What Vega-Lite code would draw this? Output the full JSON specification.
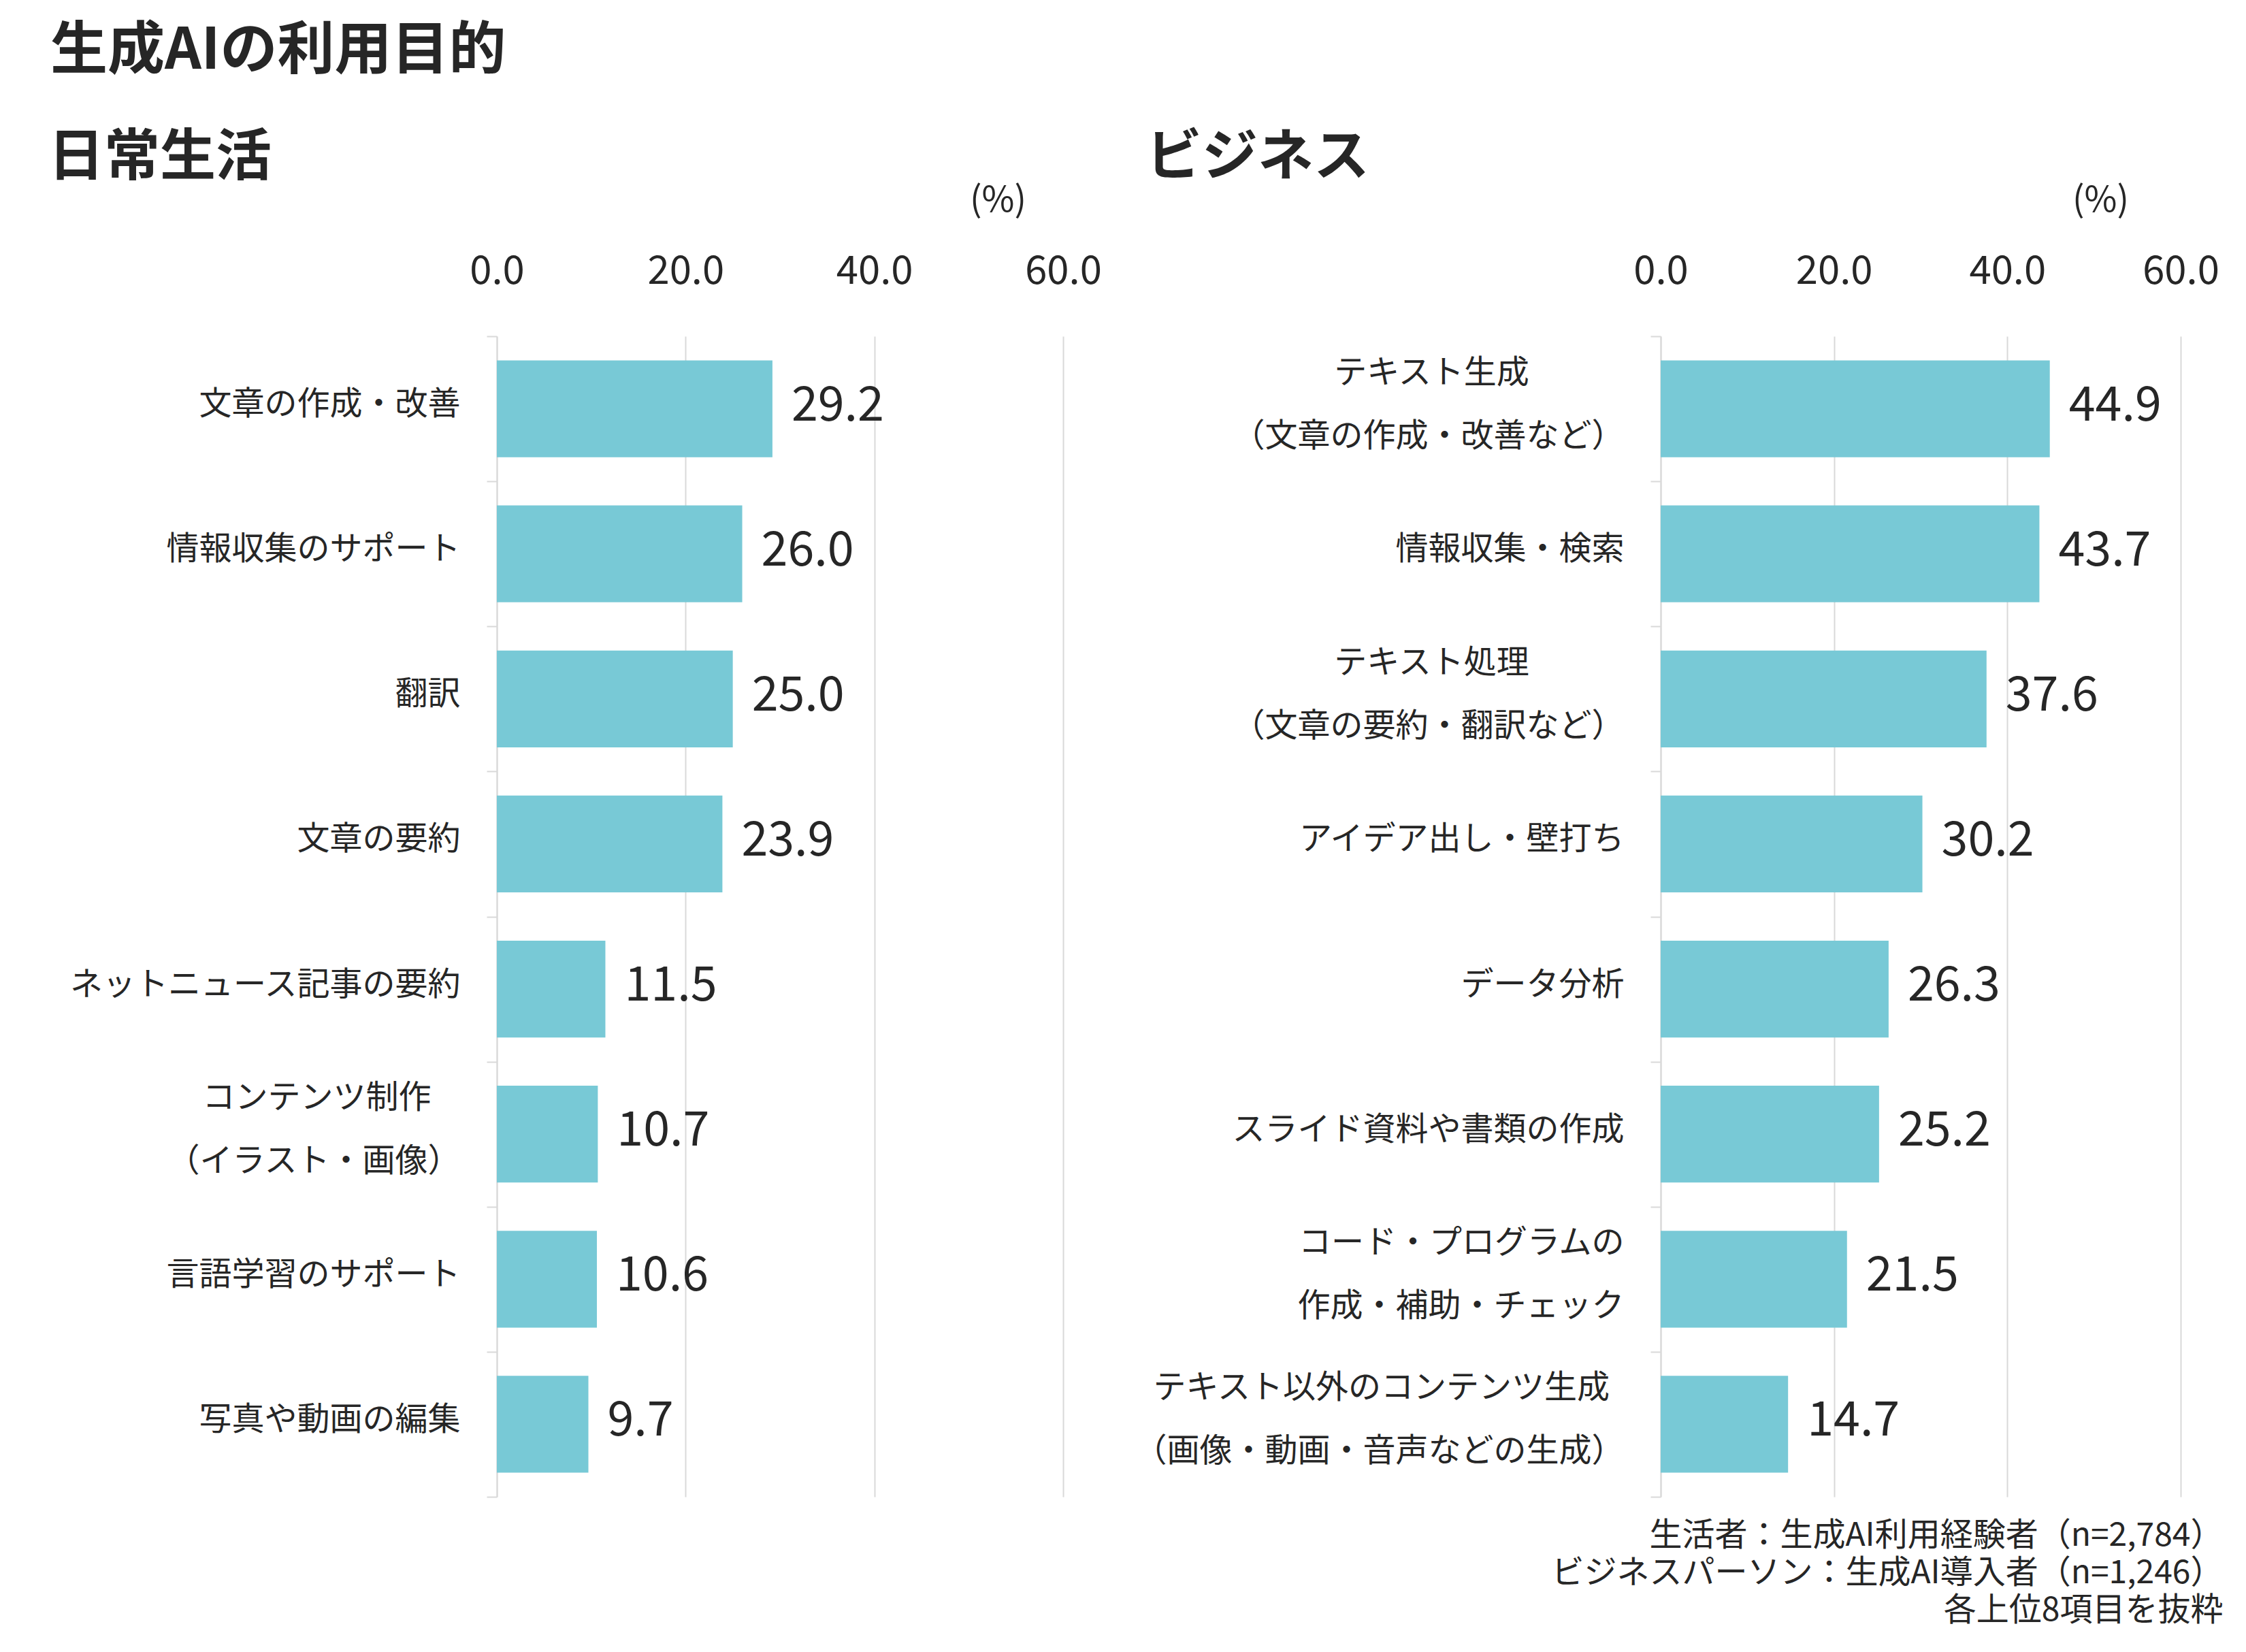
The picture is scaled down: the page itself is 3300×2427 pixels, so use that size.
{
  "$schema": "https://vega.github.io/schema/vega-lite/v6.json",
  "background": "white",
  "padding": {"left": 71, "top": 34, "right": 0, "bottom": 60},
  "bounds": "flush",
  "spacing": 878,
  "title": {"text": "生成AIの利用目的", "anchor": "start", "frame": "group", "dx": -656, "offset": 72, "fontSize": 84, "fontWeight": "bold", "color": "#262626"},
  "datasets": {
    "daily": [
      {"label": "文章の作成・改善", "value": 29.2},
      {"label": "情報収集のサポート", "value": 26.0},
      {"label": "翻訳", "value": 25.0},
      {"label": "文章の要約", "value": 23.9},
      {"label": "ネットニュース記事の要約", "value": 11.5},
      {"label": "コンテンツ制作\u00a0\u00a0\u00a0\u00a0\u200b\n（イラスト・画像）", "value": 10.7},
      {"label": "言語学習のサポート", "value": 10.6},
      {"label": "写真や動画の編集", "value": 9.7}
    ],
    "business": [
      {"label": "テキスト生成\u00a0\u00a0\u00a0\u00a0\u00a0\u00a0\u00a0\u00a0\u00a0\u00a0\u00a0\u00a0\u00a0\u200b\n（文章の作成・改善など）", "value": 44.9},
      {"label": "情報収集・検索", "value": 43.7},
      {"label": "テキスト処理\u00a0\u00a0\u00a0\u00a0\u00a0\u00a0\u00a0\u00a0\u00a0\u00a0\u00a0\u00a0\u00a0\u200b\n（文章の要約・翻訳など）", "value": 37.6},
      {"label": "アイデア出し・壁打ち", "value": 30.2},
      {"label": "データ分析", "value": 26.3},
      {"label": "スライド資料や書類の作成", "value": 25.2},
      {"label": "コード・プログラムの\n作成・補助・チェック", "value": 21.5},
      {"label": "テキスト以外のコンテンツ生成\u00a0\u00a0\u200b\n（画像・動画・音声などの生成）", "value": 14.7}
    ]
  },
  "hconcat": [
    {
      "width": 832,
      "height": 1705,
      "title": {"text": "日常生活", "anchor": "start", "frame": "group", "dx": -659, "offset": -6, "fontSize": 82, "fontWeight": "bold", "color": "#262626"},
      "data": {"name": "daily"},
      "encoding": {
        "y": {"field": "label", "type": "nominal", "sort": null,
          "scale": {"paddingInner": 0, "paddingOuter": 0},
          "axis": {"title": null, "domainColor": "#d9d9d9", "domainWidth": 2, "tickBand": "extent", "tickColor": "#d9d9d9", "tickWidth": 2, "tickSize": 15, "labelFontSize": 48, "labelColor": "#262626", "labelPadding": 39, "labelLimit": 0, "labelOverlap": false, "labelLineHeight": 46.5, "labelOffset": -52.5,
            "labelExpr": "length(split(datum.label, '\\n')) > 1 ? [split(datum.label, '\\n')[0], '\u200b', split(datum.label, '\\n')[1]] : ['\u200b', datum.label]", "grid": false}},
        "x": {"field": "value", "type": "quantitative",
          "scale": {"domain": [0, 60], "nice": false},
          "axis": {"orient": "top", "values": [0, 20, 40, 60], "format": ".1f", "labelFlush": false, "labelOverlap": false, "labelFontSize": 58, "labelColor": "#262626", "labelBaseline": "alphabetic", "labelPadding": 78, "ticks": false, "tickSize": 0, "domain": false, "grid": true, "gridColor": "#d9d9d9", "gridWidth": 2, "title": "(%)", "titleX": 736, "titleY": -200, "titleAlign": "center", "titleBaseline": "middle", "titleFontSize": 52, "titleFontWeight": "normal", "titleColor": "#262626"}}
      },
      "layer": [
        {"mark": {"type": "bar", "height": {"band": 0.667}, "color": "#78c9d6"}},
        {"mark": {"type": "text", "align": "left", "baseline": "middle", "dx": 28, "dy": -4, "fontSize": 70, "color": "#262626"},
         "encoding": {"text": {"field": "value", "type": "quantitative", "format": ".1f"}}}
      ]
    },
    {
      "width": 764,
      "height": 1705,
      "title": {"text": "ビジネス", "anchor": "start", "frame": "group", "dx": -756, "offset": -6, "fontSize": 82, "fontWeight": "bold", "color": "#262626"},
      "data": {"name": "business"},
      "resolve": {"axis": {"x": "independent"}},
      "encoding": {
        "y": {"field": "label", "type": "nominal", "sort": null,
          "scale": {"paddingInner": 0, "paddingOuter": 0},
          "axis": {"title": null, "domainColor": "#d9d9d9", "domainWidth": 2, "tickBand": "extent", "tickColor": "#d9d9d9", "tickWidth": 2, "tickSize": 15, "labelFontSize": 48, "labelColor": "#262626", "labelPadding": 39, "labelLimit": 0, "labelOverlap": false, "labelLineHeight": 46.5, "labelOffset": -52.5,
            "labelExpr": "length(split(datum.label, '\\n')) > 1 ? [split(datum.label, '\\n')[0], '\u200b', split(datum.label, '\\n')[1]] : ['\u200b', datum.label]", "grid": false}}
      },
      "layer": [
        {"mark": {"type": "bar", "height": {"band": 0.667}, "color": "#78c9d6"},
         "encoding": {
           "x": {"field": "value", "type": "quantitative",
             "scale": {"domain": [0, 60], "nice": false},
             "axis": {"orient": "top", "values": [0, 20, 40, 60], "format": ".1f", "labelFlush": false, "labelOverlap": false, "labelFontSize": 58, "labelColor": "#262626", "labelBaseline": "alphabetic", "labelPadding": 78, "ticks": false, "tickSize": 0, "domain": false, "grid": true, "gridColor": "#d9d9d9", "gridWidth": 2, "title": "(%)", "titleX": 646, "titleY": -200, "titleAlign": "center", "titleBaseline": "middle", "titleFontSize": 52, "titleFontWeight": "normal", "titleColor": "#262626"}}
         }},
        {"mark": {"type": "text", "align": "left", "baseline": "middle", "dx": 28, "dy": -4, "fontSize": 70, "color": "#262626"},
         "encoding": {
           "x": {"field": "value", "type": "quantitative",
             "scale": {"domain": [0, 60], "nice": false},
             "axis": {"orient": "bottom", "labels": false, "ticks": false, "domain": false, "grid": false, "title": ["生活者：生成AI利用経験者（n=2,784）", "ビジネスパーソン：生成AI導入者（n=1,246）", "各上位8項目を抜粋"], "titleX": 826, "titleY": 33, "titleAlign": "right", "titleBaseline": "top", "titleFontSize": 48, "titleFontWeight": "normal", "titleLineHeight": 55, "titleColor": "#262626"}},
           "text": {"field": "value", "type": "quantitative", "format": ".1f"}}}
      ]
    }
  ],
  "config": {
    "font": "Noto Sans CJK JP",
    "view": {"stroke": null}
  }
}
